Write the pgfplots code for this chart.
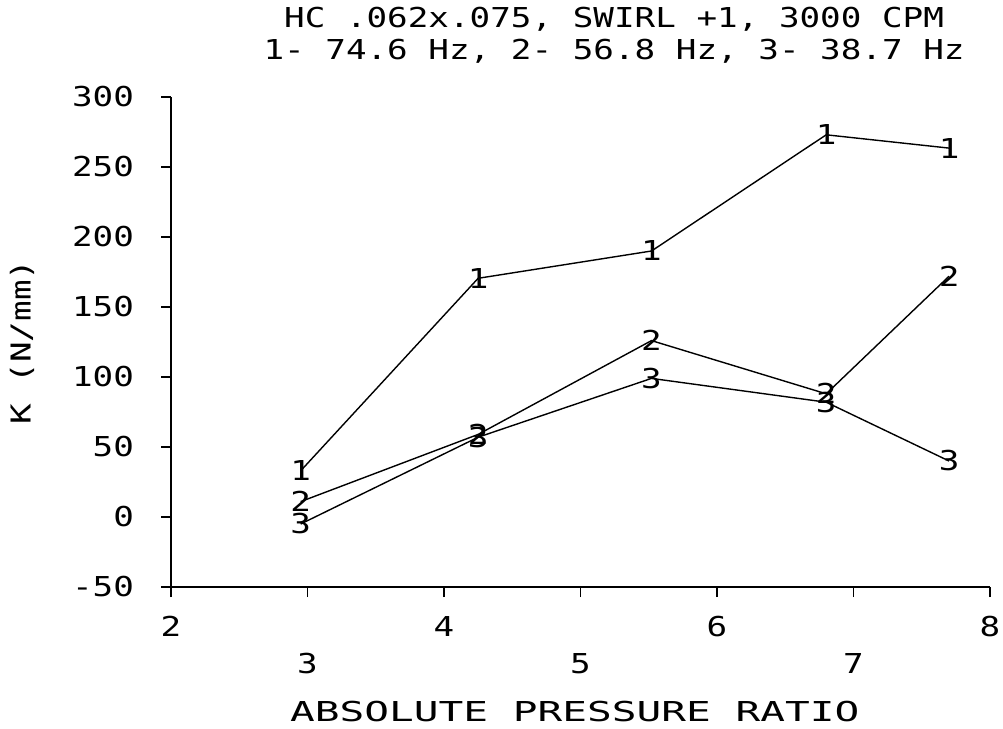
\documentclass[border=0pt]{standalone}
\usepackage{fontspec}
\newfontfamily\plotfont{DejaVu Sans Mono}[FakeStretch=1.25]
\newfontfamily\plotfontwide{DejaVu Sans Mono}[FakeStretch=1.5]
\usepackage{pgfplots}
\pgfplotsset{compat=1.18}
\pgfplotstableread{
x s1 s2 s3
2.95 33 11 -5
4.25 170.5 59 57
5.52 190 126 99
6.80 273 88 82
7.70 263.5 172 40
}\datatab
\newcommand{\pf}{\fontsize{13.7pt}{16pt}\selectfont\plotfont}
\begin{document}
\begin{tikzpicture}
\begin{axis}[
  scale only axis, width=409.5pt, height=245pt,
  xmin=2, xmax=8, ymin=-50, ymax=300,
  axis x line*=bottom, axis y line*=left,
  axis line style={line width=0.7pt, -},
  tick align=outside, major tick length=5pt,
  tick style={line width=0.7pt, black},
  xtick={2,4,6,8}, extra x ticks={3,5,7},
  extra x tick style={xticklabel style={yshift=-18.5pt}},
  ytick={-50,0,50,100,150,200,250,300},
  /pgf/number format/assume math mode=true,
  tick label style={font=\pf},
  yticklabel style={xshift=-10pt},
  xticklabel style={yshift=-6pt},
  title={HC .062x.075, SWIRL +1, 3000 CPM\\1- 74.6 Hz, 2- 56.8 Hz, 3- 38.7 Hz},
  title style={at={(axis description cs:0.541,1.102)}, anchor=center, align=center, font=\pf},
  xlabel={ABSOLUTE PRESSURE RATIO},
  xlabel style={at={(axis description cs:0.493,-0.255)}, anchor=center, font=\fontsize{13.7pt}{16pt}\selectfont\plotfontwide},
  ylabel={K (N/mm)},
  ylabel style={at={(axis description cs:-0.182,0.5)}, anchor=center, font=\pf},
  clip=false,
]
\addplot[black, line width=0.7pt, mark=text, text mark={\pf 1}] table[x=x,y=s1] {\datatab};
\addplot[black, line width=0.7pt, mark=text, text mark={\pf 2}] table[x=x,y=s2] {\datatab};
\addplot[black, line width=0.7pt, mark=text, text mark={\pf 3}] table[x=x,y=s3] {\datatab};
\coordinate (SW) at (rel axis cs:0,0);
\coordinate (NE) at (rel axis cs:1,1);
\end{axis}
\pgfresetboundingbox
\path[use as bounding box] ([shift={(-85.5pt,-70.5pt)}]SW) rectangle ([shift={(6.5pt,48.5pt)}]NE);
\end{tikzpicture}
\end{document}
